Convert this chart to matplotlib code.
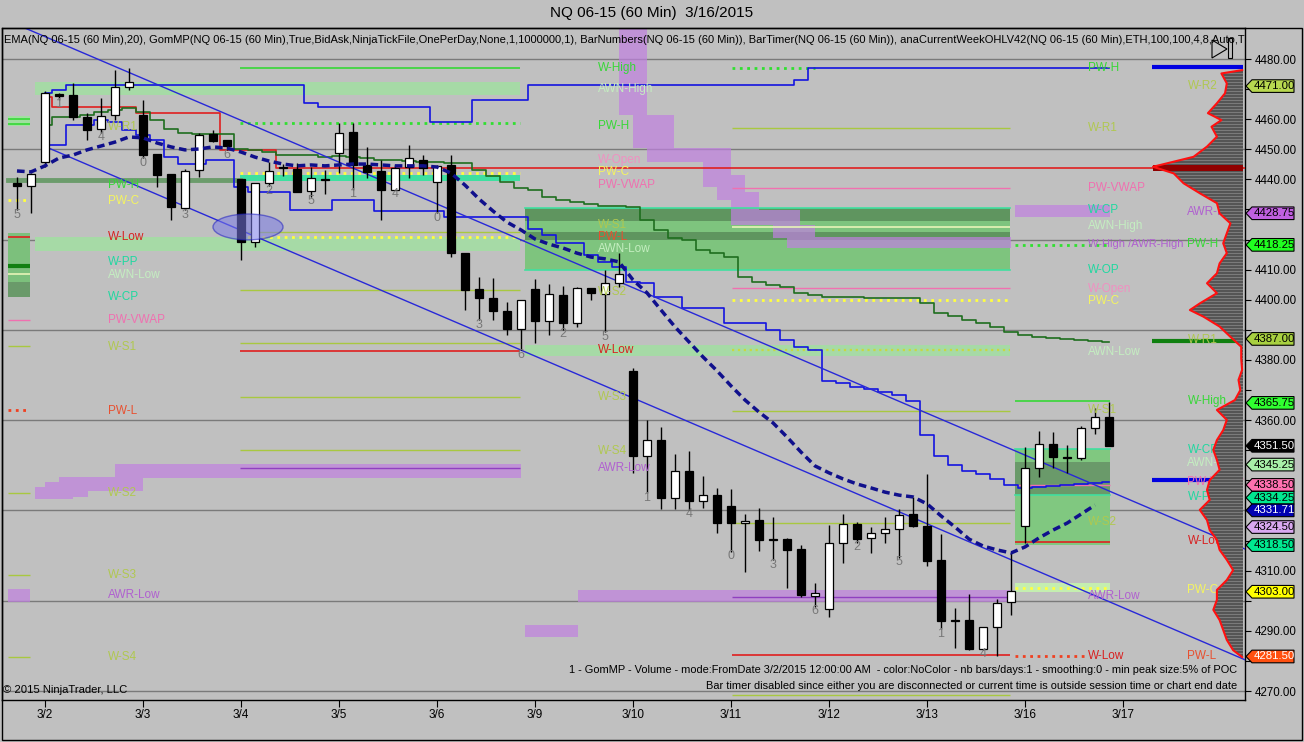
import numpy as np
import matplotlib
matplotlib.use("Agg")
import matplotlib.pyplot as plt
from matplotlib.patches import Rectangle, Ellipse, Polygon, PathPatch
from matplotlib.path import Path
from matplotlib.transforms import blended_transform_factory

plt.rcParams['font.family'] = ['Liberation Sans', 'DejaVu Sans']

# ---------------- data ----------------
opens = [4438.75, 4437.75, 4445.75, 4468.25, 4468.0, 4460.75, 4456.75, 4461.5, 4470.75, 4461.5,
         4448.5, 4441.75, 4430.5, 4443.0, 4455.0, 4453.0, 4440.0, 4419.25, 4438.75, 4444.0,
         4443.5, 4436.0, 4440.0, 4448.75, 4455.75, 4444.75, 4442.75, 4436.5, 4444.0, 4446.5,
         4439.0, 4444.75, 4415.5, 4403.5, 4400.5, 4396.25, 4390.25, 4403.5, 4393.0, 4401.5,
         4392.25, 4404.0, 4402.0, 4405.5, 4376.25, 4348.0, 4353.5, 4334.25, 4343.0, 4333.25,
         4335.25, 4331.5, 4325.75, 4326.75, 4320.5, 4320.5, 4317.25, 4301.5, 4297.25, 4319.25,
         4325.5, 4321.0, 4322.5, 4324.0, 4328.75, 4324.75, 4313.5, 4293.5, 4293.5, 4284.0,
         4291.25, 4299.5, 4324.75, 4344.0, 4352.0, 4347.75, 4347.5, 4357.5, 4361.0]
highs = [4440.75, 4442.0, 4469.5, 4468.75, 4472.0, 4462.0, 4467.0, 4476.25, 4477.0, 4466.5,
         4448.5, 4441.75, 4443.5, 4455.5, 4456.5, 4453.25, 4440.0, 4438.75, 4445.75, 4445.0,
         4445.5, 4444.0, 4443.0, 4458.75, 4458.75, 4450.75, 4446.5, 4444.75, 4451.5, 4448.0,
         4444.75, 4448.0, 4415.5, 4407.5, 4407.25, 4399.25, 4400.0, 4407.0, 4405.25, 4404.5,
         4404.25, 4404.0, 4410.0, 4415.5, 4377.25, 4360.0, 4357.75, 4348.75, 4349.75, 4341.5,
         4337.5, 4337.0, 4328.75, 4330.75, 4327.75, 4321.0, 4318.5, 4306.0, 4325.25, 4328.75,
         4326.25, 4324.5, 4327.75, 4330.5, 4334.5, 4342.0, 4322.25, 4297.5, 4302.25, 4291.25,
         4300.5, 4315.75, 4351.0, 4356.5, 4356.0, 4351.75, 4358.0, 4364.0, 4366.0]
lows = [4429.75, 4428.75, 4444.0, 4466.5, 4459.75, 4453.0, 4455.5, 4459.75, 4469.75, 4447.0,
        4437.5, 4426.5, 4429.75, 4440.75, 4452.5, 4449.75, 4413.25, 4417.5, 4437.75, 4441.0,
        4435.75, 4434.25, 4435.0, 4442.0, 4436.5, 4440.5, 4426.5, 4436.5, 4440.5, 4441.5,
        4428.75, 4414.25, 4396.5, 4393.25, 4393.25, 4388.25, 4383.25, 4385.5, 4388.25, 4390.0,
        4391.0, 4400.0, 4389.25, 4404.25, 4342.5, 4335.75, 4330.5, 4330.5, 4330.25, 4330.75,
        4322.5, 4316.25, 4309.5, 4316.5, 4313.5, 4304.25, 4301.25, 4298.0, 4294.5, 4312.5,
        4319.25, 4316.0, 4319.25, 4314.25, 4324.5, 4311.5, 4290.5, 4284.25, 4283.75, 4283.75,
        4281.5, 4295.25, 4319.25, 4341.0, 4344.0, 4342.5, 4346.75, 4355.5, 4351.5]
closes = [4437.75, 4441.75, 4468.75, 4467.75, 4460.75, 4456.5, 4461.0, 4470.75, 4472.5, 4448.0,
          4441.5, 4430.75, 4442.75, 4454.75, 4452.75, 4451.0, 4419.25, 4438.75, 4442.75, 4443.75,
          4435.75, 4440.5, 4439.75, 4455.5, 4444.75, 4442.5, 4436.5, 4443.75, 4447.0, 4443.75,
          4444.5, 4415.5, 4403.25, 4400.5, 4396.25, 4390.25, 4400.0, 4393.0, 4402.0, 4392.25,
          4404.0, 4402.25, 4405.5, 4408.5, 4348.0, 4353.5, 4334.25, 4343.0, 4333.25, 4335.25,
          4325.75, 4325.75, 4326.5, 4320.25, 4320.25, 4317.0, 4302.0, 4302.5, 4319.25, 4325.5,
          4320.5, 4322.5, 4324.0, 4328.5, 4324.75, 4313.25, 4293.25, 4293.25, 4284.0, 4291.25,
          4299.25, 4303.25, 4344.0, 4352.0, 4347.75, 4347.5, 4357.5, 4361.0, 4351.5]

ema20 = [4442.8, 4442.5, 4444.5, 4447.1, 4448.1, 4449.8, 4451.1, 4452.4, 4454.1, 4453.8,
         4452.1, 4450.8, 4449.8, 4450.1, 4450.8, 4450.4, 4449.1, 4447.4, 4446.1, 4445.1,
         4444.5, 4444.8, 4444.5, 4444.8, 4445.1, 4445.1, 4444.8, 4444.5, 4444.5, 4444.5,
         4444.1, 4442.1, 4438.1, 4433.5, 4429.5, 4425.8, 4423.2, 4420.2, 4418.5, 4417.2,
         4415.5, 4414.2, 4413.6, 4412.6, 4406.6, 4402.3, 4396.6, 4391.0, 4386.0, 4381.0,
         4376.4, 4371.4, 4366.7, 4362.7, 4359.1, 4354.4, 4349.4, 4344.8, 4342.5, 4340.5,
         4338.8, 4337.5, 4336.1, 4335.1, 4334.5, 4332.2, 4328.2, 4324.5, 4320.5, 4318.2,
         4316.9, 4315.9, 4317.9, 4320.9, 4323.5, 4325.8, 4328.8, 4331.8]

# step indicators, from bar 2 to bar 78
blue_upper = ([4468.7, 4469.7] + [4471.4] * 17 + [4465.4] + [4464.1] * 8 + [4459.1] * 3
              + [4466.4] * 4 + [4471.4] * 19 + [4473.0] + [4477.0] * 22)
blue_lower = [4451.4, 4451.4, 4458.1, 4458.1, 4459.7, 4459.1, 4456.4, 4454.7, 4453.1, 4447.4,
              4445.1, 4445.1, 4446.4, 4446.4, 4437.5, 4435.8, 4435.8, 4435.8, 4429.8, 4429.8,
              4429.8, 4433.2, 4433.2, 4433.2, 4429.5, 4429.5, 4429.5, 4429.5, 4429.5, 4427.5,
              4427.5, 4427.5, 4427.5, 4427.5, 4427.5, 4423.5, 4421.5, 4418.9, 4418.9, 4414.9,
              4412.6, 4410.9, 4405.9, 4405.6, 4400.9, 4400.9, 4397.3, 4397.3, 4397.3, 4392.3,
              4392.3, 4392.3, 4390.0, 4386.6, 4384.3, 4383.3, 4373.0, 4372.4, 4371.0, 4370.4,
              4369.4, 4368.4, 4366.4, 4355.1, 4348.1, 4345.1, 4343.1, 4342.1, 4340.5, 4338.5,
              4337.5, 4337.8, 4338.1, 4338.5, 4338.8, 4339.1, 4339.5]
green_step = [4458.1, 4460.7, 4460.7, 4461.4, 4462.4, 4463.1, 4463.7, 4462.4, 4459.7, 4456.7,
              4455.4, 4455.1, 4455.1, 4455.1, 4450.1, 4449.8, 4449.1, 4448.1, 4448.1, 4448.1,
              4447.4, 4447.8, 4447.4, 4447.1, 4446.4, 4446.4, 4446.1, 4445.8, 4445.8, 4445.5,
              4445.5, 4443.1, 4441.1, 4439.1, 4437.1, 4436.5, 4434.2, 4433.2, 4432.5, 4431.8,
              4431.2, 4431.2, 4430.8, 4426.5, 4423.2, 4420.5, 4419.9, 4416.5, 4415.5, 4414.2,
              4407.6, 4405.9, 4404.9, 4404.3, 4402.3, 4401.6, 4400.9, 4400.9, 4400.9, 4400.6,
              4400.6, 4400.6, 4400.6, 4398.9, 4395.6, 4394.6, 4393.3, 4392.3, 4391.0, 4389.3,
              4388.3, 4387.6, 4387.3, 4387.0, 4386.6, 4386.3, 4386.0]
red_step = [4467.4] + [4464.1] * 6 + [4462.1] * 6 + [4449.8] * 4 + [4443.75]   # bars 2..19
poc_price = 4443.75

bar_number_labels = ['5', '1', '4', '0', '3', '6', '2', '5', '1', '4', '0', '3',
                     '6', '2', '5', '1', '4', '0', '3', '6', '2', '5', '1', '4']
day_labels = ['3/2', '3/3', '3/4', '3/5', '3/6', '3/9', '3/10', '3/11', '3/12', '3/13', '3/16', '3/17']

# trend channel anchors (bar index, price)
chan_upper_x, chan_upper_y = [0.56, 87.71], [4490.3, 4317.2]
chan_lower_x, chan_lower_y = [2.07, 87.71], [4450.8, 4280.4]
ellipse_center = (16.5, 4424.2)
ellipse_size = (5.0, 8.6)

# volume profile (price, % of POC)
prof_price = [4476.3, 4475.2, 4471.9, 4468.6, 4465.3, 4462.0, 4459.7, 4457.5, 4454.2, 4450.9,
              4447.5, 4444.2, 4442.0, 4438.7, 4435.4, 4432.1, 4428.7, 4425.4, 4422.1, 4418.8,
              4415.5, 4412.1, 4408.8, 4405.5, 4402.2, 4398.8, 4396.6, 4394.4, 4391.1, 4387.7,
              4384.4, 4380.5, 4376.7, 4373.4, 4370.0, 4366.7, 4363.4, 4360.1, 4356.7, 4353.4,
              4350.1, 4346.8, 4343.5, 4340.1, 4336.8, 4333.5, 4330.2, 4326.8, 4323.5, 4320.2,
              4316.9, 4313.6, 4310.2, 4306.9, 4303.6, 4300.3, 4297.0, 4293.6, 4290.3, 4287.0,
              4283.6, 4281.3]
prof_vol = [1, 24, 18, 20, 29, 39, 24, 35, 29, 40,
            55, 100, 77, 66, 48, 29, 26, 14, 18, 22,
            18, 26, 29, 40, 29, 48, 59, 44, 26, 14,
            2, 2, 1, 5, 3, 9, 29, 18, 22, 29,
            33, 29, 26, 37, 40, 37, 48, 40, 37, 29,
            26, 18, 11, 18, 29, 29, 33, 26, 22, 18,
            11, 1]

# weekly level lines: (style key, price)
legend_levels = [('green', 4460.1), ('green', 4458.4), ('yellow_dot', 4433.2), ('red', 4420.9),
                 ('pink', 4393.3), ('olive', 4384.6), ('orange_dot', 4363.4), ('olive', 4335.8),
                 ('olive', 4308.6), ('olive', 4281.3)]
week1_levels = [('green', 4477.0), ('green_dot', 4458.7), ('yellow_dot', 4442.2), ('olive', 4422.5),
                ('yellow_dot', 4420.9), ('olive', 4403.3), ('olive', 4385.6), ('red', 4383.0),
                ('olive', 4367.7), ('olive', 4350.1), ('purple', 4344.1)]
week2_levels = [('olive', 4457.1), ('pink', 4437.1), ('pale', 4424.2), ('pink', 4403.9),
                ('yellow_dot', 4399.9), ('olive_dot', 4383.3), ('olive', 4363.1), ('olive', 4325.8),
                ('purple', 4301.3), ('red', 4282.0), ('olive', 4268.7)]
week2_high_dot = 4477.0
week3_levels = [('green_dot', 4418.25), ('green', 4366.4), ('pink', 4338.5), ('red', 4319.5),
                ('yellow_dot', 4304.3)]
week3_pl_dot = 4281.7
far_right_levels = [('blue_thick', 4477.3), ('dkgreen_thick', 4386.3), ('blue_thick', 4340.1)]
prior_high_thick = 4439.8

# bands: (price low, price high)
week1_green_bands = [(4468.0, 4472.4), (4416.2, 4420.9)]
week1_teal_band = (4439.5, 4441.3)
week1_purple_steps = [(1.3, 4.0, 4333.8, 4337.8), (2.0, 5.1, 4334.5, 4339.5),
                      (3.0, 9.0, 4336.4, 4341.1), (7.0, 36.0, 4340.8, 4345.4)]
week2_box = (4409.9, 4430.5)
week2_box_dark = [(4426.2, 4430.5), (4419.9, 4422.5)]
week2_band = (4381.3, 4385.0)
week2_purple_steps = [(43.0, 45.0, 4461.4, 4490.3), (44.0, 46.9, 4450.4, 4461.4),
                      (45.0, 51.0, 4445.8, 4450.4), (49.0, 51.0, 4437.5, 4449.1),
                      (50.0, 52.0, 4433.2, 4441.5), (51.0, 53.0, 4429.8, 4435.8),
                      (51.0, 55.9, 4424.8, 4429.8), (54.0, 57.0, 4420.5, 4424.8),
                      (55.0, 71.0, 4417.2, 4420.9),
                      (36.3, 40.1, 4288.0, 4292.0), (40.1, 70.9, 4299.6, 4303.6)]
week3_purple = (4427.5, 4431.5)
week3_box = (4318.5, 4350.4)
week3_box_dark = (4335.2, 4346.1)
week3_band = (4302.9, 4305.9)

# text labels beside the levels: (text, price)
labels_left = [('W-R1', 4457.5), ('PW-H', 4438.1), ('PW-C', 4432.8), ('W-Low', 4420.9),
               ('W-PP', 4412.4), ('AWN-Low', 4408.2), ('W-CP', 4400.9), ('PW-VWAP', 4393.3),
               ('W-S1', 4384.3), ('PW-L', 4363.1), ('W-S2', 4335.8), ('W-S3', 4308.6),
               ('AWR-Low', 4302.0), ('W-S4', 4281.3)]
labels_mid = [('W-High', 4477.0), ('AWN-High', 4470.0), ('PW-H', 4457.7), ('W-Open', 4446.4),
              ('PW-C', 4442.3), ('PW-VWAP', 4438.2), ('W-S1', 4424.7), ('PW-L', 4420.8),
              ('AWN-Low', 4416.9), ('W-S2', 4402.6), ('W-Low', 4383.3), ('W-S3', 4367.7),
              ('W-S4', 4349.8), ('AWR-Low', 4344.1)]
labels_right = [('PW-H', 4477.0), ('W-R1', 4457.1), ('PW-VWAP', 4437.1), ('W-CP', 4429.8),
                ('AWN-High', 4424.5), ('W-High /AWR-High', 4418.5), ('W-OP', 4409.9),
                ('W-Open', 4403.6), ('PW-C', 4399.6), ('AWN-Low', 4382.7), ('W-S1', 4363.4),
                ('W-S2', 4326.2), ('AWR-Low', 4301.6), ('W-Low', 4281.7)]
labels_far = [('W-R2', 4471.0), ('AWR-High', 4429.2), ('PW-H', 4418.5), ('W-R1', 4386.6),
              ('W-High', 4366.4), ('W-CP', 4350.1), ('AWN-Low', 4345.8), ('PW-VWAP', 4339.5),
              ('W-PP', 4334.5), ('W-Low', 4319.9), ('PW-C', 4303.6), ('PW-L', 4281.7)]

# price tags on the right axis
tag_prices = [4471.00, 4428.75, 4418.25, 4387.00, 4365.75, 4351.50, 4345.25, 4338.50,
              4334.25, 4331.71, 4324.50, 4318.50, 4303.00, 4281.50]
tag_colors = ['#b8d850', '#c060e0', '#20ff20', '#a8d040', '#30ff30', '#000000', '#a8f0a8',
              '#ff70b0', '#00e890', '#0000b0', '#d8a8f0', '#00e890', '#ffff00', '#ff5010']
tag_text_colors = ['black'] * 5 + ['white'] + ['black'] * 3 + ['white'] + ['black'] * 3 + ['white']

# ---------------- styles ----------------
LINE_STYLE = {
    'green': dict(color='#36d836', ls='-', lw=1.2),
    'green_dot': dict(color='#30e030', ls=':', lw=2.0),
    'olive': dict(color='#a8c840', ls='-', lw=1.0),
    'olive_dot': dict(color='#c8d840', ls=':', lw=1.6),
    'yellow_dot': dict(color='#ffff40', ls=':', lw=2.0),
    'red': dict(color='#e02020', ls='-', lw=1.2),
    'orange_dot': dict(color='#f04020', ls=':', lw=2.0),
    'pink': dict(color='#f070b0', ls='-', lw=1.0),
    'purple': dict(color='#9040c0', ls='-', lw=1.0),
    'pale': dict(color='#e8f4b8', ls='-', lw=1.2),
    'blue_thick': dict(color='#0000e0', ls='-', lw=3.0),
    'dkgreen_thick': dict(color='#108010', ls='-', lw=3.0),
}
LABEL_COLOR = {'W-High': '#36d836', 'PW-H': '#36d836', 'AWN-High': '#c4eec0', 'AWN-Low': '#c4eec0',
               'W-R1': '#b0c850', 'W-R2': '#b0c850', 'W-S1': '#b0c850', 'W-S2': '#b0c850',
               'W-S3': '#b0c850', 'W-S4': '#b0c850', 'PW-C': '#f4f460', 'W-Low': '#d82020',
               'PW-L': '#e85030', 'PW-VWAP': '#f070b0', 'W-Open': '#f090c0', 'AWR-High': '#b060d0',
               'AWR-Low': '#b060d0', 'W-PP': '#20d8a0', 'W-CP': '#20d8a0', 'W-OP': '#20d8a0',
               'W-High /AWR-High': '#b060d0'}

W, H = 1304, 742
BG = '#c0c0c0'
fig = plt.figure(figsize=(W / 100, H / 100), dpi=100, facecolor=BG)
ax = fig.add_axes([2 / W, 42 / H, 1243 / W, 672 / H])
ax.set_facecolor(BG)
XMIN, XMAX = -1.07, 87.71
YMIN, YMAX = 4267.04, 4490.30

# column x positions (bar units)
LEG0, LEG1 = -0.64, 0.93
W1A, W1M, W1B = 1.29, 15.93, 35.93
W2A, W2M, W2B = 36.29, 51.07, 70.93
W3A, W3B = 71.29, 78.07
FAR0 = 81.1
LBL_L, LBL_M, LBL_R, LBL_F = 6.5, 41.5, 76.5, 83.6


def rect_path(rects):
    verts, codes = [], []
    for x0, x1, y0, y1 in rects:
        verts += [(x0, y0), (x1, y0), (x1, y1), (x0, y1), (x0, y0)]
        codes += [Path.MOVETO, Path.LINETO, Path.LINETO, Path.LINETO, Path.CLOSEPOLY]
    return Path(verts, codes)


def band(x0, x1, lo, hi, color, z=1, alpha=1.0):
    ax.add_patch(Rectangle((x0, lo), x1 - x0, hi - lo, fc=color, ec='none', zorder=z, alpha=alpha))


def level(x0, x1, style, price, z=2):
    ax.plot([x0, x1], [price, price], zorder=z, solid_capstyle='butt', **LINE_STYLE[style])


# grid
for g in range(4270, 4481, 30):
    ax.axhline(g, color='#7a7a7a', lw=1, zorder=0.5)

# ---- legend column samples
band(LEG0, LEG1, 4457.6, 4461.0, '#a0e0a0')
band(LEG0, LEG1, 4400.9, 4422.2, '#7cc07c')
band(LEG0, LEG1, 4400.9, 4406.0, '#6a9a6a')
level(LEG0, LEG1, 'pale', 4408.6)
level(LEG0, LEG1, 'dkgreen_thick', 4411.2)
band(LEG0, LEG1, 4299.6, 4303.9, '#c080e0', alpha=0.7)
for st, p in legend_levels:
    level(LEG0, LEG1, st, p)
ax.plot([LEG0, W1M], [prior_high_thick] * 2, color='#6c9c6c', lw=3.5, zorder=1.5)

# ---- week 1
for lo, hi in week1_green_bands:
    band(W1A, W1B, lo, hi, '#a6daa6')
band(W1M, W1B, week1_teal_band[0], week1_teal_band[1], '#3ee0a0')
ax.add_patch(PathPatch(rect_path(week1_purple_steps), fc='#c080e0', ec='none', alpha=0.7, zorder=1.2))
for st, p in week1_levels:
    level(W1M, W1B, st, p)

# ---- week 2
band(W2A, W2B, week2_box[0], week2_box[1], '#7ec47e')
for lo, hi in week2_box_dark:
    band(W2A, W2B, lo, hi, '#5f955f')
for p in week2_box:
    ax.plot([W2A, W2B], [p, p], color='#40e0a0', lw=1.2, zorder=2)
band(W2A, W2B, week2_band[0], week2_band[1], '#a6daa6')
ax.add_patch(PathPatch(rect_path(week2_purple_steps), fc='#c080e0', ec='none', alpha=0.7, zorder=1.3))
ax.plot([W2M, 57.0], [week2_high_dot] * 2, **LINE_STYLE['green_dot'], zorder=2)
for st, p in week2_levels:
    level(W2M, W2B, st, p)

# ---- week 3
band(W3A, W3B, week3_purple[0], week3_purple[1], '#c080e0', alpha=0.7)
band(W3A, W3B, week3_box[0], week3_box[1], '#80c880')
band(W3A, W3B, week3_box_dark[0], week3_box_dark[1], '#6a9a6a')
for p in (week3_box[1], week3_box_dark[0]):
    ax.plot([W3A, W3B], [p, p], color='#40e0a0', lw=1.2, zorder=2)
band(W3A, W3B, week3_band[0], week3_band[1], '#c4eeb0')
for st, p in week3_levels:
    level(W3A, W3B, st, p)
ax.plot([W3A, 76.4], [week3_pl_dot] * 2, zorder=2, **LINE_STYLE['orange_dot'])

for st, p in far_right_levels:
    level(FAR0, XMAX - 0.15, st, p, z=3)

# ---- POC / step indicators
sx = np.arange(2, 79)
ax.plot(np.arange(2, 20), red_step, color='#e02020', lw=1.2, drawstyle='steps-mid', zorder=3)
ax.plot([19, XMAX], [poc_price, poc_price], color='#e02020', lw=1.2, zorder=3)
ax.plot(sx, green_step, color='#1e6e1e', lw=1.2, drawstyle='steps-mid', zorder=3)
ax.plot(sx, blue_upper, color='#1414e0', lw=1.2, drawstyle='steps-mid', zorder=3)
ax.plot(sx, blue_lower, color='#1414e0', lw=1.2, drawstyle='steps-mid', zorder=3)

# ---- trend channel
ax.plot(chan_upper_x, chan_upper_y, color='#2828d8', lw=1.0, zorder=4)
ax.plot(chan_lower_x, chan_lower_y, color='#2828d8', lw=1.0, zorder=4)

# ---- candles
x = np.arange(len(opens))
o, h, l, c = map(np.array, (opens, highs, lows, closes))
ax.vlines(x, l, h, color='black', lw=1.0, zorder=5)
up = c >= o
body_lo = np.minimum(o, c)
body_h = np.maximum(np.abs(c - o), 0.3)
ax.bar(x, body_h, bottom=body_lo, width=0.62, color=np.where(up, 'white', 'black'),
       edgecolor='black', linewidth=0.9, zorder=6)
for k, t in enumerate(bar_number_labels):
    i = 3 * k
    ax.text(i, lows[i] - 1.5, t, ha='center', va='center', color='#787878', fontsize=9, zorder=6)

ax.add_patch(Ellipse(ellipse_center, ellipse_size[0], ellipse_size[1], fc='#7a7ae8', ec='#2020c0',
                     lw=1.0, alpha=0.55, zorder=7))

# ---- EMA
ax.plot(np.arange(len(ema20)), ema20, color='#10108c', lw=2.5, ls='--', dashes=(2.2, 1.3), zorder=7)

# ---- labels
for lst, xx in ((labels_left, LBL_L), (labels_mid, LBL_M), (labels_right, LBL_R), (labels_far, LBL_F)):
    for t, p in lst:
        fs = 8.0 if len(t) > 10 else 8.5
        ax.text(xx, p, t, color=LABEL_COLOR[t], fontsize=fs, ha='left', va='center', zorder=8)

# ---- volume profile
axb = blended_transform_factory(ax.transAxes, ax.transData)
RIGHT = 0.9984
MAXW = 90 / 1243
pts = [(RIGHT, prof_price[0])] + [(RIGHT - v / 100 * MAXW, p) for p, v in zip(prof_price, prof_vol)] \
      + [(RIGHT, prof_price[-1])]
poly = Polygon(pts, closed=True, fc='#555555', ec='none', transform=axb, zorder=8)
ax.add_patch(poly)
stripes = np.arange(4281.5, 4477, 1.0)
sl = ax.hlines(stripes, RIGHT - MAXW, RIGHT, colors='#8c8c8c', lw=0.5, transform=axb, zorder=8.5)
sl.set_clip_path(poly)
ax.add_patch(Rectangle((RIGHT - MAXW, poc_price - 0.9), MAXW, 1.8, fc='#900000', ec='none',
                       transform=axb, zorder=8.6))
ax.plot([q[0] for q in pts[1:-1]], [q[1] for q in pts[1:-1]], color='#ff1010', lw=1.5,
        transform=axb, zorder=8.7)

# ---- axes, ticks (tick labels that sit under a price tag are hidden as in the original)
ax.set_xlim(XMIN, XMAX)
ax.set_ylim(YMIN, YMAX)
ax.yaxis.tick_right()
yt = np.arange(4270, 4481, 10)
ax.set_yticks(yt)
ax.set_yticklabels(['' if min(abs(v - tp) for tp in tag_prices) < 4.6 else f'{v:.2f}' for v in yt])
ax.set_xticks(2 + 7 * np.arange(len(day_labels)))
ax.set_xticklabels(day_labels)
ax.tick_params(axis='y', direction='out', length=4, labelsize=8.3, pad=3, colors='black')
ax.tick_params(axis='x', direction='out', length=5, labelsize=8.5, pad=1.5, colors='black')
for s in ax.spines.values():
    s.set_color('black')
    s.set_linewidth(1)

# price tags (stacked so that close prices do not cover each other)
tt = blended_transform_factory(fig.transFigure, ax.transData)
hh = 2.1
prev = None
for p, fc, tc in sorted(zip(tag_prices, tag_colors, tag_text_colors), key=lambda r: -r[0]):
    yp = p if prev is None else min(p, prev - 2 * hh)
    prev = yp
    xt, xs, xe = 1246 / W, 1252 / W, 1294 / W
    ax.add_patch(Polygon([(xt, yp), (xs, yp + hh), (xe, yp + hh), (xe, yp - hh), (xs, yp - hh)], closed=True,
                         fc=fc, ec='black', lw=0.8, transform=tt, clip_on=False, zorder=20))
    ax.text(1254 / W, yp, f'{p:.2f}', color=tc, fontsize=8.2, va='center', ha='left', transform=tt,
            clip_on=False, zorder=21)

# texts
fig.text(652 / W, 1 - 13 / H, 'NQ 06-15 (60 Min)  3/16/2015', ha='center', va='center', fontsize=11)
ax.text(0.0016, 0.982,
        'EMA(NQ 06-15 (60 Min),20), GomMP(NQ 06-15 (60 Min),True,BidAsk,NinjaTickFile,OnePerDay,None,1,1000000,1), '
        'BarNumbers(NQ 06-15 (60 Min)), BarTimer(NQ 06-15 (60 Min)), anaCurrentWeekOHLV42(NQ 06-15 (60 Min),ETH,100,100,4,8,Auto,True)',
        transform=ax.transAxes, fontsize=8.0, ha='left', va='center', clip_on=True, zorder=22)
ax.text(0.9936, 0.0446,
        '1 - GomMP - Volume - mode:FromDate 3/2/2015 12:00:00 AM  - color:NoColor - nb bars/days:1 - '
        'smoothing:0 - min peak size:5% of POC', transform=ax.transAxes, fontsize=7.9, ha='right',
        va='center', zorder=22)
ax.text(0.9936, 0.0208,
        'Bar timer disabled since either you are disconnected or current time is outside session time or chart end date',
        transform=ax.transAxes, fontsize=7.9, ha='right', va='center', zorder=22)
ax.text(0.0010, 0.0149, '\u00a9 2015 NinjaTrader, LLC', transform=ax.transAxes, fontsize=8.1,
        ha='left', va='center', zorder=22)

# play icon
ax.add_patch(Polygon([(1212 / W, 1 - 40 / H), (1212 / W, 1 - 58 / H), (1227 / W, 1 - 49 / H)], closed=True,
                     fc='none', ec='black', lw=0.8, transform=fig.transFigure, clip_on=False, zorder=22))
ax.add_patch(Rectangle((1228 / W, 1 - 58 / H), 4 / W, 20 / H, fc='none', ec='black', lw=0.8,
                       transform=fig.transFigure, clip_on=False, zorder=22))

# outer frame
fig.add_artist(Rectangle((2 / W, 2 / H), 1300 / W, 712 / H, fill=False, ec='black', lw=1,
                         transform=fig.transFigure))

fig.savefig('out.png', dpi=100, facecolor=BG)
